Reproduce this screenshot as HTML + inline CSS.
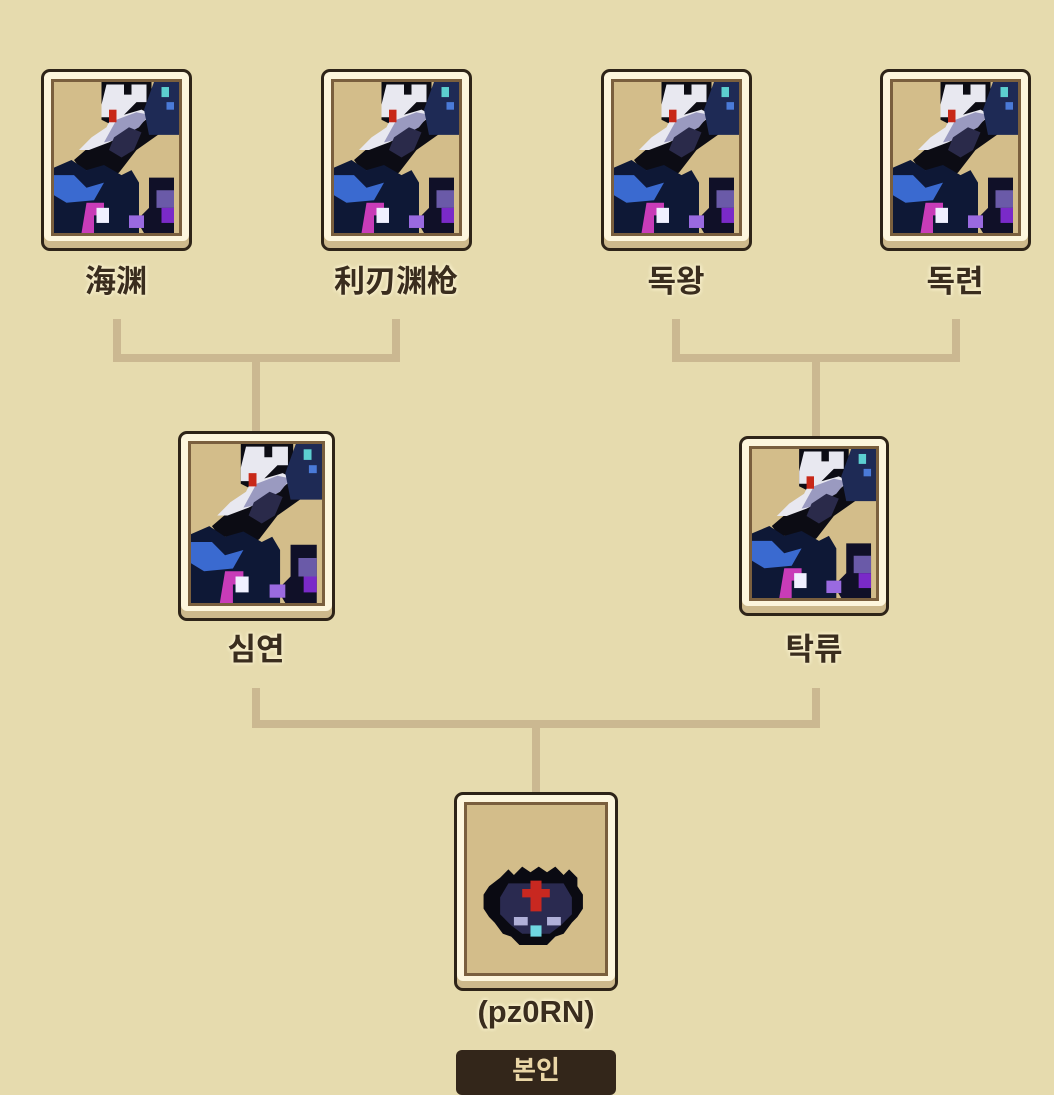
<!DOCTYPE html>
<html><head><meta charset="utf-8"><style>
body{margin:0;width:1054px;height:1091px;background:#e6dbae;position:relative;overflow:hidden;font-family:"Liberation Sans","Noto Sans CJK KR","Noto Sans CJK SC",sans-serif}
.l{position:absolute;background:#cbb891}
.card{position:absolute;box-sizing:border-box;border:3px solid #2e2418;border-radius:9px;background:#fdf6dd;box-shadow:inset 0 -7px 0 #cdb98c}
.in{position:absolute;left:7px;right:7px;top:7px;bottom:12px;border:3px solid #7a5f3e;background:#d3bd8a;overflow:hidden}
.in svg{width:100%;height:100%;display:block}
.lab{position:absolute;font-weight:bold;font-size:31px;color:#3a2d1e;text-align:center;width:200px;text-shadow:0 0 4px #fff6d6,0 0 4px #fff6d6}
.badge{position:absolute;left:456px;top:1050px;width:160px;height:45px;background:#33261a;border-radius:6px;color:#ead6a6;font-weight:bold;font-size:26px;text-align:center;line-height:40px}
</style></head><body>
<svg width="0" height="0" style="position:absolute"><defs>
<g id="art">
<rect width="100" height="120" fill="#d3bd8a"/>
<path d="M38 0h40v10h8v30l-20 14-14 18-12 6-8-8h-10l-6-8 14-12 10-4 6-12-8-4z" fill="#0c0c14"/>
<path d="M42 2h14v8h6v-8h12v14h-8l-10 10 14-4 8 4-14 12-20 10-16 6h-8l10-10 12-8 4-8h-8v-10z" fill="#e8e8f0"/>
<path d="M50 30l16-6 10 2-8 10-18 10-10 2z" fill="#9a9ac0"/>
<rect x="44" y="22" width="6" height="10" fill="#c82818"/>
<path d="M80 0h20v42h-24l-4-20z" fill="#1e2a55"/>
<rect x="86" y="4" width="6" height="8" fill="#5ccfd0"/>
<rect x="90" y="16" width="6" height="6" fill="#4a7ad8"/>
<path d="M48 44l12-8 10 4-6 14-10 6-10-6z" fill="#2a2a4a"/>
<path d="M0 68l14-6 12 8 14-4 14 8 8-4 6 10v46h-68z" fill="#0e1836"/>
<path d="M0 74l16 0 10 10 14-4-8 14-22 2-10-6z" fill="#3a6ad0"/>
<path d="M26 96h14v10h-8v14h-10z" fill="#c83cb8"/>
<path d="M34 100h10v12h-10z" fill="#f0f0ff"/>
<path d="M76 76h20v44h-24l-6-10 10-10z" fill="#101028"/>
<path d="M82 86h14v14h-14z" fill="#6a5aa8"/>
<path d="M86 100h10v12h-10z" fill="#7a2ac8"/>
<path d="M60 106h12v10h-12z" fill="#9a6ae0"/>
</g>
<g id="boss">
<rect width="100" height="120" fill="#d3bd8a"/>
<path d="M24 52l6-6 4 4 6-6 6 4 6-4 6 4 6-4 6 6 4-4 6 6v6l4 6v10l-4 6-4 4-6 8-6 2-6 6h-20l-6-6-6-2-6-8-4-4-4-6v-10l4-6z" fill="#0a0a12"/>
<path d="M30 56h40l6 10v12l-8 8-8 6h-20l-8-6-8-8v-12z" fill="#2a2a50"/>
<path d="M46 54h8v6h6v6h-6v10h-8v-10h-6v-6h6z" fill="#c82820"/>
<rect x="34" y="80" width="10" height="6" fill="#b0b0d8"/><rect x="58" y="80" width="10" height="6" fill="#b0b0d8"/>
<rect x="46" y="86" width="8" height="8" fill="#6fd6e0"/>
</g>
</defs></svg>

<div class="l" style="left:113px;top:319px;width:8px;height:43px"></div>
<div class="l" style="left:392px;top:319px;width:8px;height:43px"></div>
<div class="l" style="left:113px;top:354px;width:287px;height:8px"></div>
<div class="l" style="left:252px;top:354px;width:8px;height:80px"></div>
<div class="l" style="left:672px;top:319px;width:8px;height:43px"></div>
<div class="l" style="left:952px;top:319px;width:8px;height:43px"></div>
<div class="l" style="left:672px;top:354px;width:288px;height:8px"></div>
<div class="l" style="left:812px;top:354px;width:8px;height:84px"></div>
<div class="l" style="left:252px;top:688px;width:8px;height:40px"></div>
<div class="l" style="left:812px;top:688px;width:8px;height:40px"></div>
<div class="l" style="left:252px;top:720px;width:568px;height:8px"></div>
<div class="l" style="left:532px;top:720px;width:8px;height:74px"></div>

<div class="card" style="left:41px;top:69px;width:151px;height:182px"><div class="in"><svg viewBox="0 0 100 120" preserveAspectRatio="none"><use href="#art"/></svg></div></div>
<div class="card" style="left:321px;top:69px;width:151px;height:182px"><div class="in"><svg viewBox="0 0 100 120" preserveAspectRatio="none"><use href="#art"/></svg></div></div>
<div class="card" style="left:601px;top:69px;width:151px;height:182px"><div class="in"><svg viewBox="0 0 100 120" preserveAspectRatio="none"><use href="#art"/></svg></div></div>
<div class="card" style="left:880px;top:69px;width:151px;height:182px"><div class="in"><svg viewBox="0 0 100 120" preserveAspectRatio="none"><use href="#art"/></svg></div></div>
<div class="card" style="left:178px;top:431px;width:157px;height:190px"><div class="in"><svg viewBox="0 0 100 120" preserveAspectRatio="none"><use href="#art"/></svg></div></div>
<div class="card" style="left:739px;top:436px;width:150px;height:180px"><div class="in"><svg viewBox="0 0 100 120" preserveAspectRatio="none"><use href="#art"/></svg></div></div>
<div class="card" style="left:454px;top:792px;width:164px;height:199px"><div class="in"><svg viewBox="0 0 100 120" preserveAspectRatio="none"><use href="#boss"/></svg></div></div>

<div class="lab" style="left:16px;top:256px">海渊</div>
<div class="lab" style="left:296px;top:256px">利刃渊枪</div>
<div class="lab" style="left:576px;top:256px">독왕</div>
<div class="lab" style="left:855px;top:256px">독련</div>
<div class="lab" style="left:156px;top:624px">심연</div>
<div class="lab" style="left:714px;top:624px">탁류</div>
<div class="lab" style="left:436px;top:994px">(pz0RN)</div>
<div class="badge">본인</div>
</body></html>
